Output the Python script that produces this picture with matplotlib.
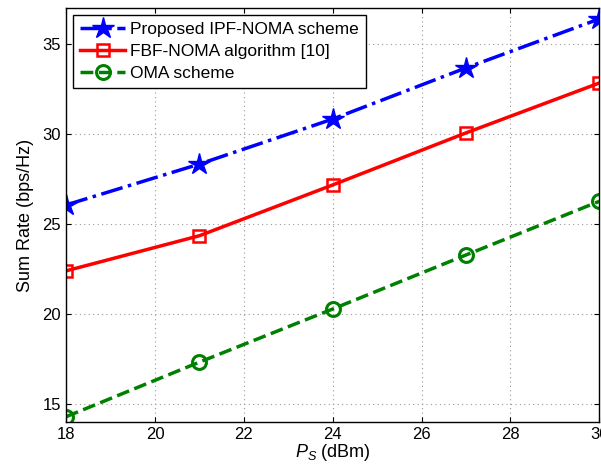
import matplotlib
matplotlib.use("Agg")
import matplotlib.pyplot as plt

plt.rcParams["font.family"] = ["Liberation Sans", "DejaVu Sans"]
plt.rcParams["mathtext.fontset"] = "custom"
plt.rcParams["mathtext.it"] = "Liberation Sans:italic"
plt.rcParams["mathtext.rm"] = "Liberation Sans"

ps = [18, 21, 24, 27, 30]
ipf_noma = [26.06, 28.33, 30.83, 33.67, 36.39]
fbf_noma = [22.40, 24.35, 27.17, 30.06, 32.83]
oma = [14.30, 17.33, 20.28, 23.28, 26.26]

fig = plt.figure(figsize=(6.01, 4.69), dpi=100)
ax = fig.add_axes([0.110, 0.100, 0.887, 0.883])

ax.plot(ps, ipf_noma, color="blue", ls="-.", lw=2.5, marker="*", ms=16,
        label="Proposed IPF-NOMA scheme")
ax.plot(ps, fbf_noma, color="red", ls="-", lw=2.5, marker="s", ms=8,
        mfc="none", mew=1.8, label="FBF-NOMA algorithm [10]")
ax.plot(ps, oma, color="green", ls="--", lw=2.5, marker="o", ms=10,
        mfc="none", mew=2.2, label="OMA scheme")

ax.set_xlim(18, 30)
ax.set_ylim(14, 37)
ax.set_xticks(range(18, 31, 2))
ax.set_yticks([15, 20, 25, 30, 35])
ax.grid(True, ls=(0, (1, 3)), color="#999999", lw=0.8)
ax.tick_params(direction="in", labelsize=12, top=True, right=True)
for s in ax.spines.values():
    s.set_linewidth(1.0)
ax.set_xlabel("$P_S$ (dBm)", fontsize=13, labelpad=0)
ax.set_ylabel("Sum Rate (bps/Hz)", fontsize=13, labelpad=6)

leg = ax.legend(loc="upper left", fontsize=12.5, fancybox=False, edgecolor="black",
                framealpha=1, borderaxespad=0.4, handlelength=2.6,
                handletextpad=0.3, labelspacing=0.4, borderpad=0.4)
leg.get_frame().set_linewidth(1.0)

fig.savefig("out.png", dpi=100)
